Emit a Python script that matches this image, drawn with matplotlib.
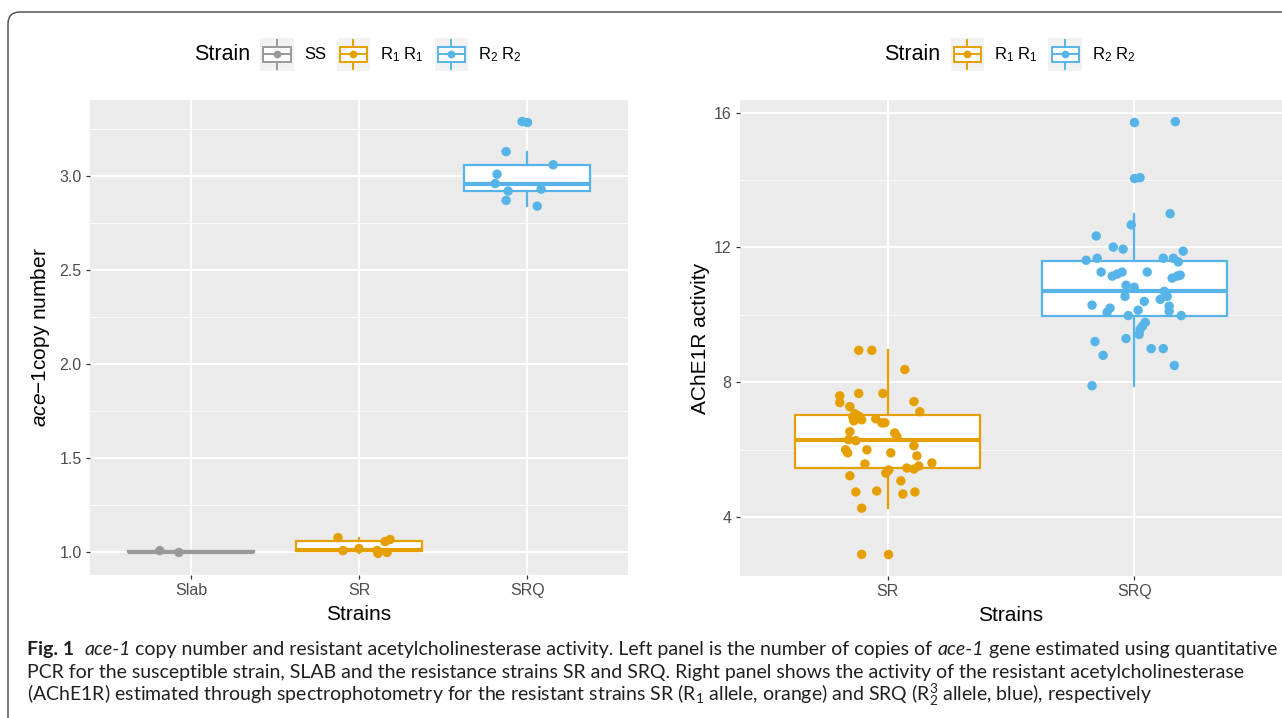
import matplotlib
matplotlib.use("Agg")
import matplotlib.pyplot as plt
import matplotlib.transforms as mtransforms
from matplotlib.patches import FancyBboxPatch, Rectangle
from matplotlib.lines import Line2D
from matplotlib.offsetbox import HPacker, TextArea, DrawingArea, AnchoredOffsetbox
from matplotlib.ticker import MultipleLocator, FormatStrFormatter

plt.rcParams["font.family"] = ["Liberation Sans", "DejaVu Sans"]
plt.rcParams["mathtext.fontset"] = "custom"
plt.rcParams["mathtext.rm"] = "Liberation Sans"
plt.rcParams["mathtext.it"] = "Liberation Sans:italic"
plt.rcParams["mathtext.bf"] = "Liberation Sans:bold"

GREY, ORANGE, BLUE = "#999999", "#E69F00", "#56B4E9"
PANEL, KEYBG = "#EBEBEB", "#F2F2F2"

# ---------- left panel: ace-1 copy number ----------
copy_strains = ["Slab", "SR", "SRQ"]
copy_slab = [1.005, 0.995]
copy_sr = [1.074, 1.005, 1.016, 0.990, 1.005, 0.995, 1.053, 1.064]
copy_srq = [3.29, 3.13, 3.06, 3.01, 2.96, 2.92, 2.93, 2.87, 2.84]
# horizontal jitter as seen in the picture (category units)
copy_slab_dx = [-0.185, -0.071]
copy_sr_dx = [-0.125, -0.095, 0.0, 0.113, 0.107, 0.167, 0.155, 0.185]
copy_srq_dx = [-0.03, -0.125, 0.155, -0.179, -0.19, -0.113, 0.083, -0.125, 0.06]

# ---------- right panel: AChE1R activity ----------
act_strains = ["SR", "SRQ"]
act_sr = [8.95, 8.95, 8.38, 7.60, 7.40, 7.67, 7.67, 7.43, 7.13, 7.28, 7.07, 6.98, 7.00,
          6.89, 6.86, 6.92, 6.80, 6.80, 6.54, 6.50, 6.39, 6.30, 6.27, 6.12, 6.00, 5.91,
          6.00, 5.91, 5.82, 5.58, 5.61, 5.46, 5.43, 5.52, 5.40, 5.31, 5.23, 5.08, 4.75,
          4.78, 4.69, 4.75, 4.27, 2.90]
act_sr_dx = [-0.118, -0.065, 0.069, -0.195, -0.195, -0.118, -0.020, 0.106, 0.130, -0.154,
             -0.134, -0.142, -0.118, -0.106, -0.138, -0.049, -0.024, -0.012, -0.154, 0.028,
             0.037, -0.159, -0.130, 0.106, -0.171, -0.163, -0.085, 0.012, 0.118, -0.093,
             0.179, 0.077, 0.106, 0.126, 0.004, -0.008, -0.154, 0.053, -0.130, -0.045,
             0.061, 0.110, -0.106, -0.106]
act_srq = [15.73, 14.07, 13.00, 12.67, 12.34, 12.01, 11.95, 11.89, 11.68, 11.62, 11.68,
           11.68, 11.57, 11.27, 11.15, 11.21, 11.27, 11.27, 11.09, 11.15, 11.18, 10.88,
           10.82, 10.55, 10.70, 10.55, 10.46, 10.40, 10.29, 10.26, 10.11, 10.20, 10.08,
           10.14, 9.98, 9.98, 9.78, 9.66, 9.57, 9.42, 9.30, 9.21, 9.00, 9.00, 8.80, 8.50,
           7.90]
act_srq_dx = [0.167, 0.024, 0.146, -0.012, -0.154, -0.085, -0.045, 0.199, -0.150, -0.195,
              0.118, 0.159, 0.179, -0.134, -0.089, -0.069, -0.049, 0.053, 0.154, 0.175,
              0.187, -0.033, 0.0, -0.037, 0.122, 0.134, 0.106, 0.041, -0.171, 0.142, 0.142,
              -0.098, -0.110, 0.016, -0.024, 0.191, 0.045, 0.033, 0.024, 0.020, -0.033,
              -0.159, 0.069, 0.118, -0.126, 0.163, -0.171]

legend_left = [("SS", GREY), (r"R$\mathregular{_1}$ R$\mathregular{_1}$", ORANGE),
               (r"R$\mathregular{_2}$ R$\mathregular{_2}$", BLUE)]
legend_right = legend_left[1:]


def jitbox(ax, pos, vals, dx, color):
    ax.boxplot([vals], positions=[pos], widths=0.75, whis=1.5, showcaps=False,
               patch_artist=True, manage_ticks=False, zorder=2,
               boxprops=dict(facecolor="white", edgecolor=color, lw=1.6),
               whiskerprops=dict(color=color, lw=1.6),
               medianprops=dict(color=color, lw=3.0),
               flierprops=dict(marker="o", markerfacecolor=color, markeredgecolor="none",
                               markersize=6.8))
    ax.scatter([pos + d for d in dx], vals, s=46, color=color, edgecolors="none", zorder=3)


def style(ax, cats, major, minor, fmt):
    ax.set_facecolor(PANEL)
    for s in ax.spines.values():
        s.set_visible(False)
    ax.set_xticks(range(len(cats)))
    ax.set_xticklabels(cats)
    ax.set_xlim(-0.6, len(cats) - 0.4)
    ax.yaxis.set_major_locator(MultipleLocator(major))
    ax.yaxis.set_minor_locator(MultipleLocator(minor))
    ax.yaxis.set_major_formatter(FormatStrFormatter(fmt))
    ax.set_axisbelow(True)
    ax.grid(which="major", color="white", lw=1.4)
    ax.yaxis.grid(True, which="minor", color="white", lw=0.6)
    ax.tick_params(which="major", length=3, width=0.9, color="#333333", labelsize=11.5,
                   labelcolor="#4D4D4D", pad=3)
    ax.tick_params(which="minor", length=0)


def key(color):
    k = 24
    da = DrawingArea(k, k, 0, 0)
    da.add_artist(Rectangle((0, 0), k, k, fc=KEYBG, ec="none"))
    da.add_artist(Line2D([k / 2, k / 2], [1.5, k - 1.5], color=color, lw=1.4))
    da.add_artist(Rectangle((2.2, 6.4), k - 4.4, 11.2, fc="white", ec=color, lw=1.4))
    da.add_artist(Line2D([2.2, k - 2.2], [k / 2, k / 2], color=color, lw=1.4))
    da.add_artist(Line2D([k / 2], [k / 2], marker="o", ms=5.6, color=color, mec="none"))
    return da


def legend(fig, entries, xc, yc):
    kids = [TextArea("Strain", textprops=dict(fontsize=15.5))]
    for lab, col in entries:
        kids += [key(col), TextArea(lab, textprops=dict(fontsize=12))]
    box = HPacker(children=kids, align="center", pad=0, sep=7.5)
    fig.add_artist(AnchoredOffsetbox(loc="center", child=box, pad=0, borderpad=0, frameon=False,
                                     bbox_to_anchor=(xc, yc), bbox_transform=fig.transFigure))


fig = plt.figure(figsize=(12.82, 7.18), dpi=100)
W, H = 1282, 718

# outer caption frame (rounded top-left corner)
pix = mtransforms.IdentityTransform()
fig.add_artist(FancyBboxPatch((8, -100), 1400, H - 12 + 100,
                              boxstyle="round,pad=0,rounding_size=12", transform=pix,
                              fc="none", ec="#555555", lw=1.1))

# left panel
ax1 = fig.add_axes([90 / W, 1 - 575 / H, 538 / W, 475 / H])
for i, (vals, dx, col) in enumerate([(copy_slab, copy_slab_dx, GREY),
                                     (copy_sr, copy_sr_dx, ORANGE),
                                     (copy_srq, copy_srq_dx, BLUE)]):
    jitbox(ax1, i, vals, dx, col)
style(ax1, copy_strains, 0.5, 0.25, "%.1f")
lo, hi = min(copy_slab + copy_sr + copy_srq), max(copy_slab + copy_sr + copy_srq)
ax1.set_ylim(lo - 0.05 * (hi - lo), hi + 0.05 * (hi - lo))
ax1.set_xlabel("Strains", fontsize=15, labelpad=5)
ax1.set_ylabel(r"$\mathit{ace{-}1}$copy number", fontsize=15, labelpad=5)

# right panel
ax2 = fig.add_axes([740 / W, 1 - 576 / H, 542 / W, 476 / H])
for i, (vals, dx, col) in enumerate([(act_sr, act_sr_dx, ORANGE),
                                     (act_srq, act_srq_dx, BLUE)]):
    jitbox(ax2, i, vals, dx, col)
style(ax2, act_strains, 4, 2, "%d")
lo, hi = min(act_sr + act_srq), max(act_sr + act_srq)
ax2.set_ylim(lo - 0.05 * (hi - lo), hi + 0.05 * (hi - lo))
ax2.set_xlabel("Strains", fontsize=15, labelpad=5)
ax2.set_ylabel("AChE1R activity", fontsize=15, labelpad=3)

legend(fig, legend_left, 358 / W, 1 - 54.5 / H)
legend(fig, legend_right, 1010 / W, 1 - 54.5 / H)

# ---------- caption ----------
CAP = ["Lato", "DejaVu Sans"]
NORM, BOLD, IT = ("normal", "normal"), ("bold", "normal"), ("normal", "italic")
cap_lines = [
    [("Fig. 1", BOLD), ("  ", NORM), ("ace-1", IT),
     (" copy number and resistant acetylcholinesterase activity. Left panel is the number of copies of ", NORM),
     ("ace-1", IT), (" gene estimated using quantitative", NORM)],
    [("PCR for the susceptible strain, SLAB and the resistance strains SR and SRQ. "
      "Right panel shows the activity of the resistant acetylcholinesterase", NORM)],
    [(r"(AChE1R) estimated through spectrophotometry for the resistant strains SR (R$\mathregular{_1}$ "
      r"allele, orange) and SRQ (R$\mathregular{_2^3}$ allele, blue), respectively", NORM)],
]
baselines = [655, 678, 701]

rend = fig.canvas.get_renderer()


def twidth(s, size, wt, st):
    kw = dict(fontsize=size, fontweight=wt, fontstyle=st, family=CAP, transform=pix)
    a = fig.text(0, 0, "|" + s + "|", **kw)
    b = fig.text(0, 0, "||", **kw)
    w = a.get_window_extent(rend).width - b.get_window_extent(rend).width
    a.remove(); b.remove()
    return w


w12 = sum(twidth(s, 12, *p) for s, p in cap_lines[0])
fs = 12 * 1245 / w12
for runs, yb in zip(cap_lines, baselines):
    x = 27
    for s, (wt, st) in runs:
        fig.text(x, H - yb, s, fontsize=fs, fontweight=wt, fontstyle=st, family=CAP,
                 color="#231F20", transform=pix, va="baseline", ha="left")
        x += twidth(s, fs, wt, st)

fig.savefig("out.png", dpi=100)
